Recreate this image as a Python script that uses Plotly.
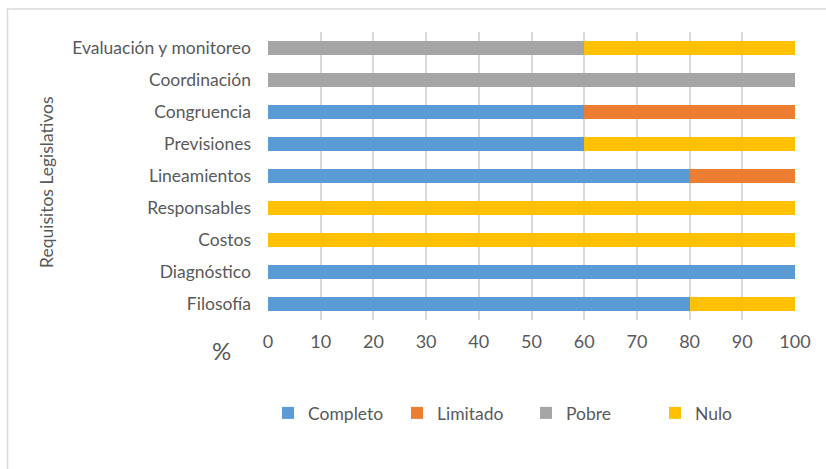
import plotly.graph_objects as go

categories = ["Filosofía", "Diagnóstico", "Costos", "Responsables", "Lineamientos",
              "Previsiones", "Congruencia", "Coordinación", "Evaluación y monitoreo"]
completo = [80, 100, 0, 0, 80, 60, 60, 0, 0]
limitado = [0, 0, 0, 0, 20, 0, 40, 0, 0]
pobre = [0, 0, 0, 0, 0, 0, 0, 100, 60]
nulo = [20, 0, 100, 100, 0, 40, 0, 0, 40]
x_ticks = [0, 10, 20, 30, 40, 50, 60, 70, 80, 90, 100]

series = [("Completo", completo, "#5B9BD5"), ("Limitado", limitado, "#ED7D31"),
          ("Pobre", pobre, "#A5A5A5"), ("Nulo", nulo, "#FFC000")]

FONT = "Lato, Open Sans, sans-serif"
GREY = "#595959"

fig = go.Figure()
for name, vals, col in series:
    fig.add_trace(go.Bar(y=categories, x=vals, name=name, orientation="h",
                         marker=dict(color=col, line=dict(width=0)), width=0.41))

W, H = 826, 469
L, R, T, B = 268, 31, 32, 149
pw = W - L - R
ph = H - T - B

def px_x(p):
    return (p - L) / pw

def px_y(p):
    return (H - B - p) / ph

fig.update_layout(
    width=W, height=H, barmode="stack",
    margin=dict(l=L, r=R, t=T, b=B, autoexpand=False),
    plot_bgcolor="white", paper_bgcolor="white",
    font=dict(family=FONT, color=GREY, size=15),
    xaxis=dict(range=[0, 100], tickvals=x_ticks, showgrid=True, gridcolor="#d9d9d9",
               gridwidth=1.5, zeroline=False, showline=False,
               tickfont=dict(size=18, color=GREY), ticklabelstandoff=9, fixedrange=True),
    yaxis=dict(categoryorder="array", categoryarray=categories, showgrid=False,
               showline=False, zeroline=False, tickfont=dict(size=17.5, color=GREY),
               ticklabelstandoff=16, range=[-0.5, 8.5], fixedrange=True),
    legend=dict(orientation="h", x=px_x(268), xanchor="left", y=px_y(413), yanchor="middle",
                font=dict(size=17.5, color=GREY), traceorder="normal", itemwidth=30,
                entrywidth=84, entrywidthmode="pixels", bgcolor="rgba(0,0,0,0)"),
    bargap=0.59,
    annotations=[
        dict(text="%", xref="paper", yref="paper", x=px_x(221), y=px_y(350),
             showarrow=False, font=dict(size=24, color=GREY), xanchor="center", yanchor="middle"),
        dict(text="Requisitos Legislativos", xref="paper", yref="paper", x=px_x(47),
             y=px_y(182), showarrow=False, textangle=-90, font=dict(size=17.5, color=GREY),
             xanchor="center", yanchor="middle"),
    ],
    shapes=[dict(type="rect", xref="paper", yref="paper", x0=px_x(7.5), x1=px_x(840),
                 y0=px_y(9), y1=px_y(480), line=dict(color="#d9d9d9", width=1.5),
                 fillcolor="rgba(0,0,0,0)", layer="below")],
)

fig.write_html("out.html", config={"displayModeBar": False},
               post_script="document.body.style.margin='0';document.body.style.overflow='hidden';")
